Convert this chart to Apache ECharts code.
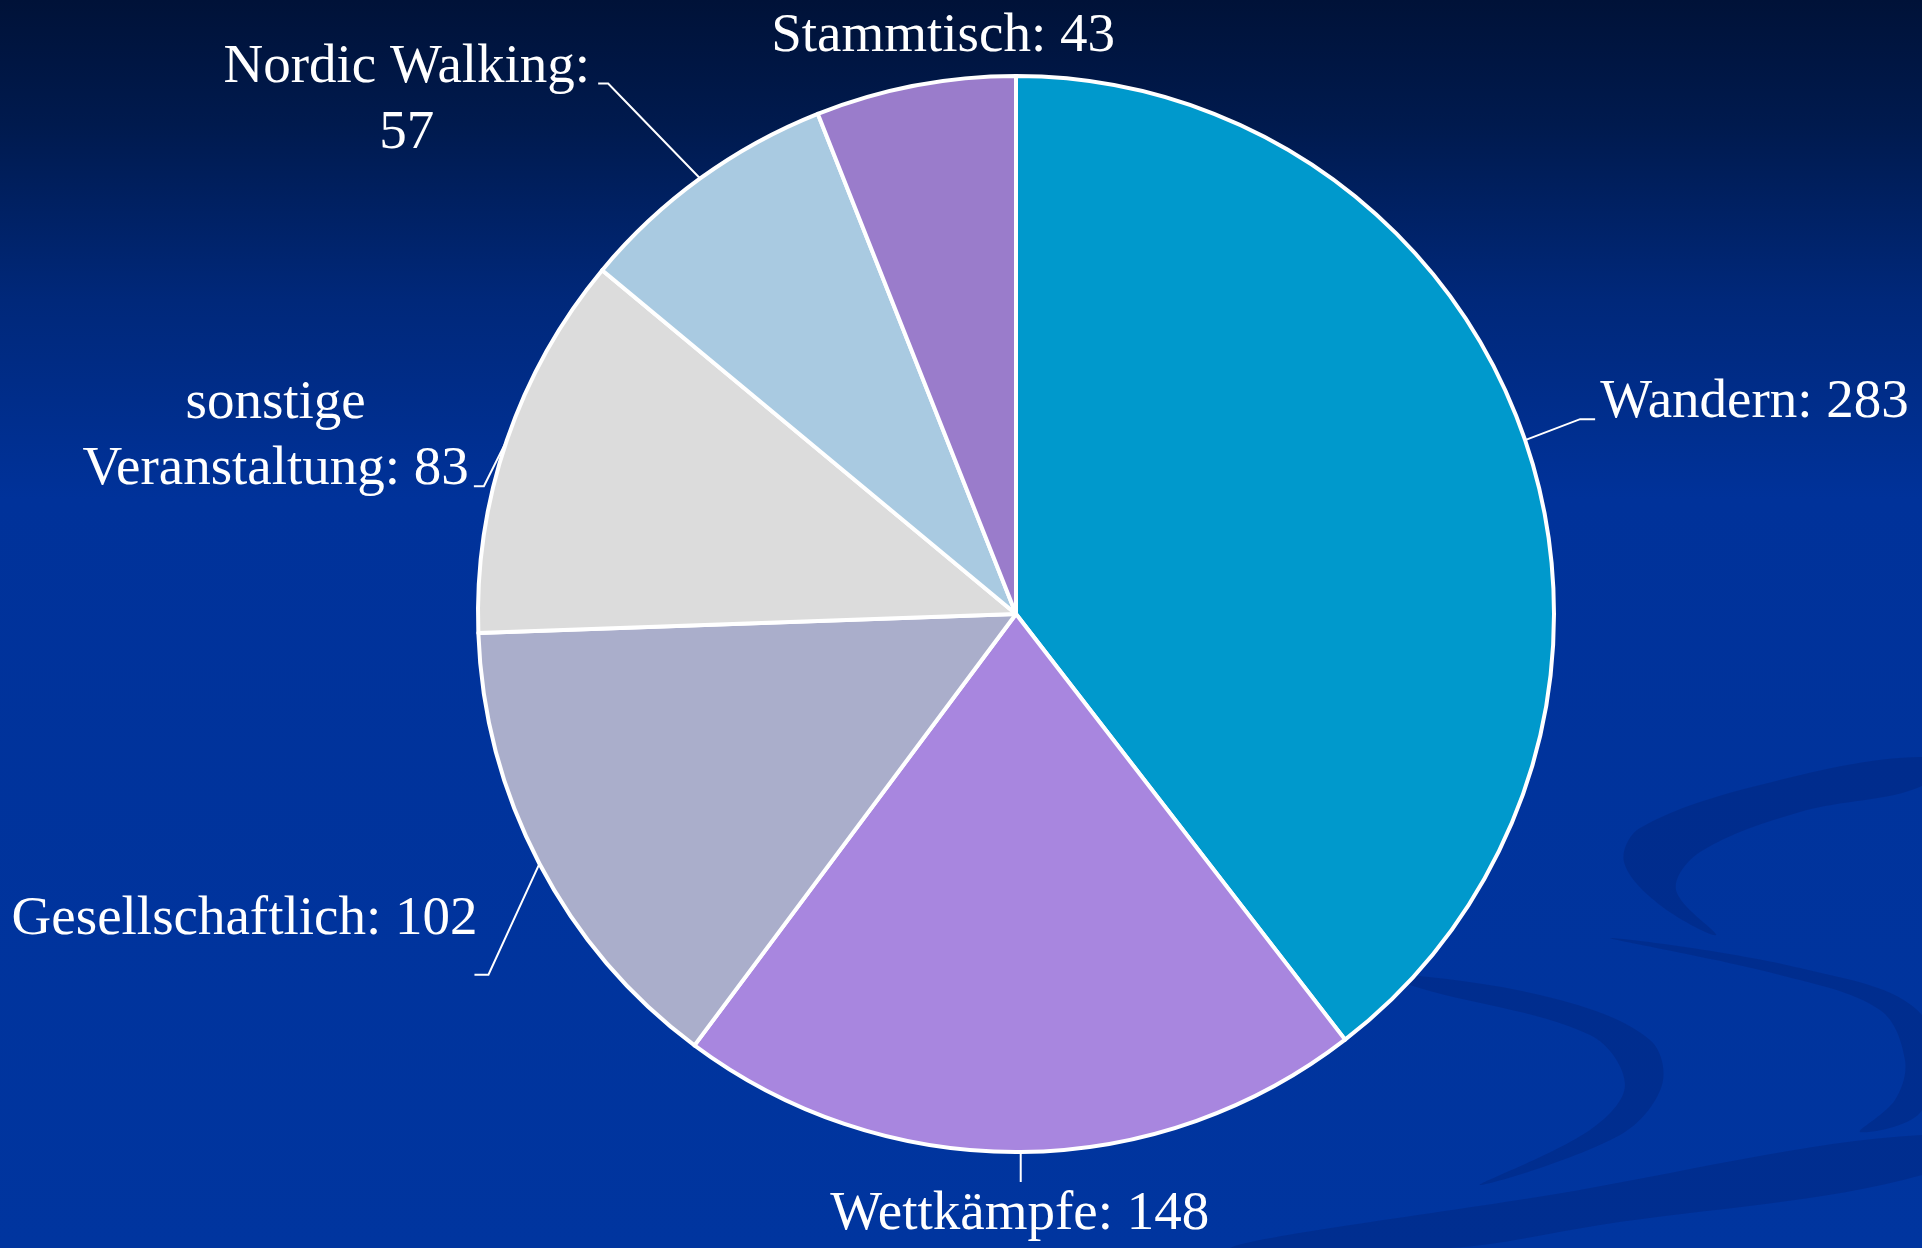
<!DOCTYPE html>
<html>
<head>
<meta charset="utf-8">
<script src="https://cdn.jsdelivr.net/npm/echarts@6/dist/echarts.min.js"></script>
<style>
  html, body { margin: 0; padding: 0; }
  #chart {
    width: 1922px;
    height: 1248px;
    background: linear-gradient(to bottom, #001238 0%, #001a4e 10%, #00287a 24%, #00329a 40%, #00359f 100%);
  }
</style>
</head>
<body>
<div id="chart"></div>
<script>
const categories = ["Wandern", "Wettkämpfe", "Gesellschaftlich", "sonstige Veranstaltung", "Nordic Walking", "Stammtisch"];
const values = [283, 148, 102, 83, 57, 43];
const sliceColors = ["#0099cc", "#a886df", "#aaaecb", "#dcdcdc", "#a9cae1", "#9a7ccb"];

// leader line / label placement, relative to the slice edge point (like the Excel chart)
const placement = [
  { elbow: [55, -21], stub: 15, offset: [5, -17], side: "left", line: true },
  { elbow: [0, 30], stub: 0, offset: [-1, 33], side: "center", line: true },
  { elbow: [-51, 111], stub: -14, offset: [3, -55], side: "right", line: true },
  { elbow: [-23, 46], stub: -10, offset: [-5, -50], side: "right", line: true },
  { elbow: [-92, -95], stub: -10, offset: [-8, 17], side: "right", line: true },
  { elbow: [0, 0], stub: 0, offset: [28, -49], side: "center", line: false },
];

// background swirls of the slide template
const swirls = [
  [[1922, 757], [1760, 785], [1640, 828], [1624, 862], [1660, 905], [1716, 935], [1676, 890], [1700, 852], [1800, 812], [1922, 786]],
  [[1610, 938], [1780, 975], [1880, 1010], [1905, 1060], [1895, 1100], [1860, 1132], [1922, 1110], [1922, 1015], [1800, 968]],
  [[1410, 975], [1560, 1000], [1650, 1040], [1662, 1085], [1620, 1135], [1480, 1185], [1590, 1130], [1625, 1085], [1590, 1035], [1410, 985]],
  [[1230, 1248], [1550, 1195], [1922, 1135], [1922, 1175], [1600, 1225], [1450, 1248]],
];

const cx = 1016, cy = 614, r = 538;
const total = values.reduce((a, b) => a + b, 0);

const edgePoint = (i) => {
  let before = 0;
  for (let k = 0; k < i; k++) before += values[k];
  const mid = ((before + values[i] / 2) / total) * 2 * Math.PI;
  return [cx + r * Math.sin(mid), cy - r * Math.cos(mid)];
};

var chart = echarts.init(document.getElementById("chart"));
var option;

option = {
  backgroundColor: "transparent",
  animation: false,
  graphic: swirls.map((pts) => ({
    type: "polygon",
    z: 0,
    silent: true,
    shape: { points: pts, smooth: 0.35 },
    style: { fill: "rgba(0,25,90,0.22)" },
  })),
  series: [
    {
      type: "pie",
      center: [cx, cy],
      radius: r,
      startAngle: 90,
      clockwise: true,
      avoidLabelOverlap: false,
      emphasis: { disabled: true },
      itemStyle: { borderColor: "#ffffff", borderWidth: 4 },
      label: {
        show: true,
        position: "outside",
        color: "#ffffff",
        fontFamily: "Liberation Serif",
        fontSize: 55,
        lineHeight: 66,
        formatter: function (p) {
          if (p.name === "Nordic Walking") return p.name + ":\n" + p.value;
          if (p.name === "sonstige Veranstaltung") return p.name.replace(" ", "\n") + ": " + p.value;
          return p.name + ": " + p.value;
        },
      },
      labelLine: {
        show: true,
        length: 20,
        length2: 10,
        lineStyle: { color: "#ffffff", width: 2 },
      },
      labelLayout: function (p) {
        const cfg = placement[p.dataIndex];
        const p0 = edgePoint(p.dataIndex);
        const elbow = [p0[0] + cfg.elbow[0], p0[1] + cfg.elbow[1]];
        const end = [elbow[0] + cfg.stub, elbow[1]];
        const w = p.labelRect.width;
        let x = end[0] + cfg.offset[0];
        if (cfg.side === "left") x += w / 2;
        if (cfg.side === "right") x -= w / 2;
        return {
          x: x,
          y: end[1] + cfg.offset[1],
          align: "center",
          verticalAlign: "middle",
          labelLinePoints: cfg.line ? [p0, elbow, end] : [p0, p0, p0],
        };
      },
      data: categories.map((name, i) => ({
        name: name,
        value: values[i],
        itemStyle: { color: sliceColors[i] },
      })),
    },
  ],
};

option && chart.setOption(option);
</script>
</body>
</html>
